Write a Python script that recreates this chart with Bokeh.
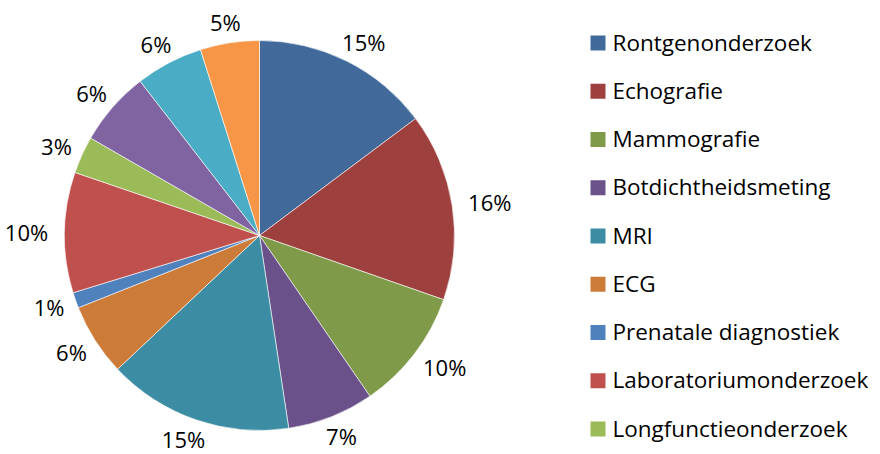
import math
from bokeh.plotting import figure
from bokeh.models import Range1d, ColumnDataSource
from bokeh.core.properties import value
from bokeh.embed import file_html
from bokeh.resources import INLINE

categories = ["Rontgenonderzoek", "Echografie", "Mammografie", "Botdichtheidsmeting",
              "MRI", "ECG", "Prenatale diagnostiek", "Laboratoriumonderzoek",
              "Longfunctieonderzoek", "Overig 1", "Overig 2", "Overig 3"]
shares = [14.8, 15.6, 10.1, 7.2, 15.4, 6.0, 1.3, 10.0, 3.1, 6.2, 5.6, 4.9]
colors = ["#416A9B", "#9E413E", "#7F9A48", "#6A5189", "#3C8DA3", "#CC7B38",
          "#4F81BD", "#C0504D", "#9BBB59", "#8064A2", "#4BACC6", "#F79646"]
legend_count = 9

W, H = 880, 454
PH = 454
p = figure(width=W, height=H, output_backend="svg", toolbar_location=None,
           x_range=Range1d(0, W), y_range=Range1d(0, H),
           min_border=0, match_aspect=False)
p.axis.visible = False
p.grid.visible = False
p.outline_line_color = None
p.background_fill_color = "white"
p.border_fill_color = "white"

cx, cy_page, R = 259, 235, 195
cy = PH - cy_page
FS = 22
total = sum(shares)
starts, ends, lx, ly, labels = [], [], [], [], []
cum = 0.0
for s in shares:
    a0 = math.pi / 2 - 2 * math.pi * cum / total
    cum += s
    a1 = math.pi / 2 - 2 * math.pi * cum / total
    starts.append(a0)
    ends.append(a1)
    mid = (a0 + a1) / 2
    lab = f"{round(100 * s / total)}%"
    ux, uy = math.cos(mid), math.sin(mid)
    hw = 10 * len(lab)
    hh = 15
    x = cx + (R + 8) * ux + ux * hw
    y = cy + (R + 6) * uy + uy * hh
    y = max(y, PH - 438)  # keep the lowest labels inside the canvas
    lx.append(x)
    ly.append(y)
    labels.append(lab)

src = ColumnDataSource(dict(start=starts, end=ends, color=colors, cat=categories))
p.wedge(x=cx, y=cy, radius=R, start_angle="start", end_angle="end", direction="clock",
        fill_color="color", line_color="white", line_width=0.6, source=src)

p.text(x=lx, y=ly, text=labels, text_align="center", text_baseline="middle",
       text_font=value("Open Sans"), text_font_size=f"{FS}px", text_color="#000000")

# legend
lg_y = [PH - (42.5 + 48.25 * i) for i in range(legend_count)]
p.rect(x=[597.5] * legend_count, y=lg_y, width=15, height=15,
       fill_color=colors[:legend_count], line_color=None)
p.text(x=[612] * legend_count, y=[v + 1 for v in lg_y], text=categories[:legend_count],
       text_align="left", text_baseline="middle",
       text_font=value("Open Sans"), text_font_size="22.5px", text_color="#000000")

open("out.html", "w").write(file_html(p, INLINE))
